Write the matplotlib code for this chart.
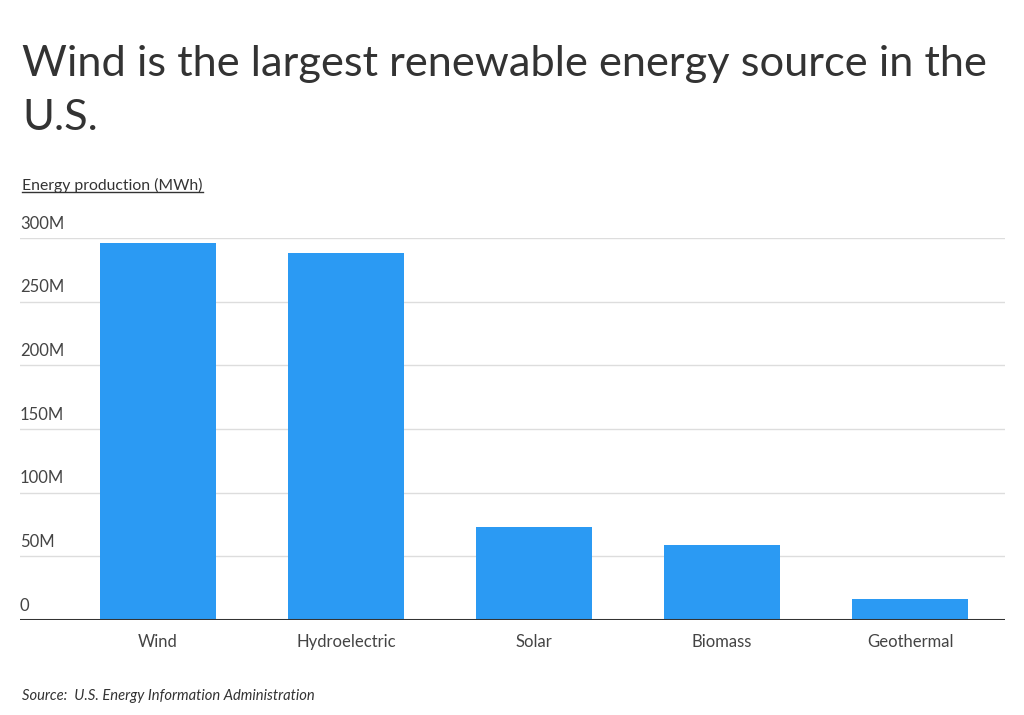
import matplotlib
matplotlib.use('Agg')
import matplotlib.pyplot as plt
from matplotlib.lines import Line2D

# data
sources = ['Wind', 'Hydroelectric', 'Solar', 'Biomass', 'Geothermal']
production = [296e6, 288e6, 73e6, 59e6, 16.5e6]
ytick_vals = [0, 50e6, 100e6, 150e6, 200e6, 250e6, 300e6]
ytick_labels = ['0', '50M', '100M', '150M', '200M', '250M', '300M']

plt.rcParams['font.family'] = ['Lato', 'DejaVu Sans']
text_col = '#333333'

fig = plt.figure(figsize=(10.24, 7.15), dpi=100)
ax = fig.add_axes([20/1024, 95/715, 985/1024, 382/715])

x = list(range(len(sources)))
ax.bar(x, production, width=0.617, color='#2B9AF3', zorder=2)

ax.set_xlim(-0.734, 4.505)
ax.set_ylim(0, 300e6)
for v in ytick_vals[1:]:
    ax.axhline(v, color='#dddddd', lw=1, zorder=1)
ax.axhline(0, color='#333333', lw=2.2, zorder=3)
for v, lab in zip(ytick_vals, ytick_labels):
    ax.text(0, v + 5e6, lab, transform=ax.get_yaxis_transform(), ha='left', va='bottom',
            fontsize=12, color='#444444')

ax.set_xticks(x)
ax.set_xticklabels(sources, fontsize=12, color='#444444')
ax.tick_params(axis='x', length=0, pad=10)
ax.set_yticks([])
for s in ax.spines.values():
    s.set_visible(False)

fig.text(22/1024, 1 - 76/715, 'Wind is the largest renewable energy source in the',
         fontsize=31.2, color=text_col, ha='left', va='baseline')
fig.text(22/1024, 1 - 130/715, 'U.S.', fontsize=31.2, color=text_col, ha='left', va='baseline')

ylab = fig.text(22/1024, 1 - 190/715, 'Energy production (MWh)', fontsize=11.3,
                color=text_col, ha='left', va='baseline')
fig.canvas.draw()
bb = ylab.get_window_extent()
uy = (bb.y0 + 1) / fig.bbox.height
fig.add_artist(Line2D([bb.x0 / fig.bbox.width, bb.x1 / fig.bbox.width], [uy, uy],
                      transform=fig.transFigure, color=text_col, lw=1))

fig.text(22/1024, 1 - 700/715, 'Source:  U.S. Energy Information Administration',
         fontsize=10.6, style='italic', color=text_col, ha='left', va='baseline')

fig.savefig('out.png', dpi=100)
